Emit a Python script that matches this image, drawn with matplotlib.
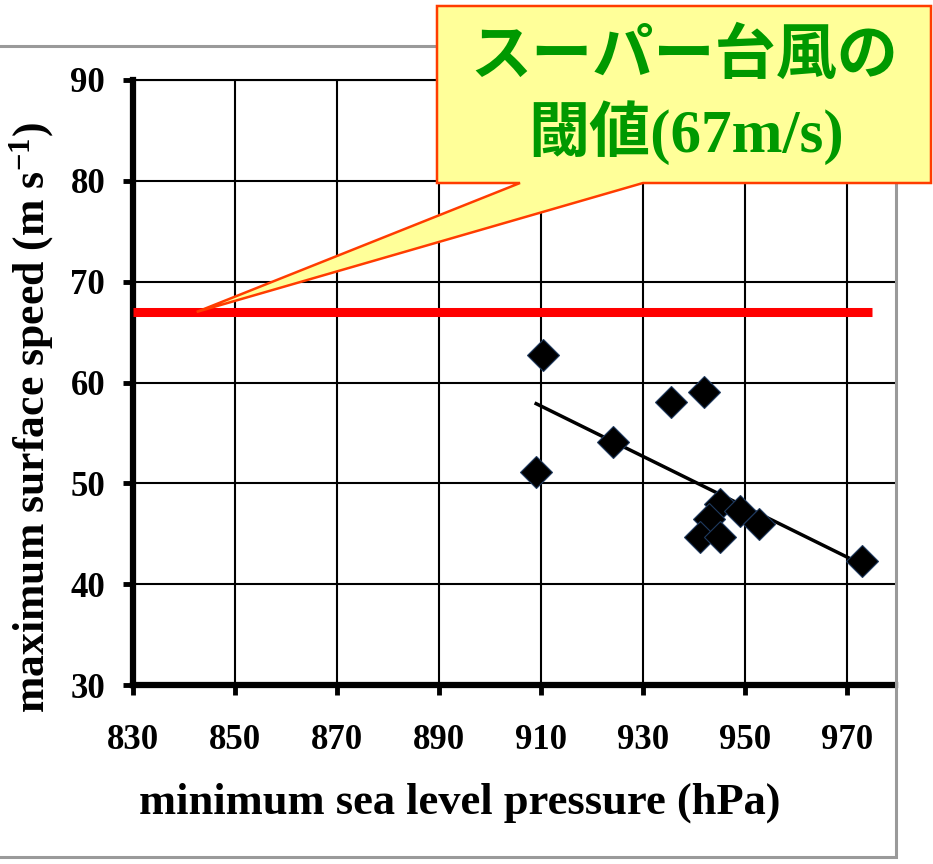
import numpy as np
import matplotlib.pyplot as plt
from matplotlib.patches import Polygon, Rectangle


# typhoon cases: minimum sea level pressure (hPa) and maximum surface wind (m/s)
pressure = [910.4, 909.1, 924.2, 935.6, 942.0, 945.1, 943.1, 941.2, 945.1, 949.0, 952.9, 973.1]
wind     = [62.7, 51.1, 54.1, 58.1, 59.1, 48.0, 46.5, 44.7, 44.7, 47.3, 46.0, 42.3]

threshold      = 67              # super typhoon threshold (m/s)
threshold_span = (830, 975)      # hPa range covered by the threshold line
callout_target = (842.5, threshold)

xticks = np.arange(830, 971, 20)
yticks = np.arange(30, 91, 10)


plt.rcParams['font.family'] = 'Liberation Serif'
plt.rcParams['font.weight'] = 'bold'
plt.rcParams['mathtext.fontset'] = 'custom'
plt.rcParams['mathtext.rm'] = 'Liberation Serif:bold'
plt.rcParams['mathtext.bf'] = 'Liberation Serif:bold'
plt.rcParams['mathtext.it'] = 'Liberation Serif:bold:italic'
plt.rcParams['mathtext.default'] = 'rm'

W, H = 933, 864
fig = plt.figure(figsize=(W/100, H/100), dpi=100)
ax = fig.add_axes([133/W, 1 - 685/H, 762/W, 605/H])

### outer gray frame
fig.add_artist(Rectangle((-0.01, 1 - 857/H), 896/W + 0.01, (857 - 46)/H,
                         transform=fig.transFigure, fill=False,
                         edgecolor='#9a9a9a', lw=2.2, zorder=1))

### threshold line, trend line and data
ax.hlines(threshold, *threshold_span, color='#ff0000', lw=6.5, zorder=3)
coef = np.polyfit(pressure, wind, 1)
xs = np.array([min(pressure), max(pressure)])
ax.plot(xs, np.polyval(coef, xs), color='black', lw=2.5, zorder=4)
ax.plot(pressure, wind, ls='none', marker='D', ms=16.5, color='black',
        markeredgecolor='#1f3a5f', markeredgewidth=0.8, zorder=5)

### axes
ax.set_xlim(830, 979.5)
ax.set_ylim(30, 90)
ax.set_xticks(xticks)
ax.set_yticks(yticks)
ax.grid(True, color='black', lw=1.5)
ax.set_axisbelow(True)
for side in ('left', 'bottom'):
    ax.spines[side].set_linewidth(4.5)
ax.spines['top'].set_linewidth(1.5)
ax.spines['right'].set_visible(False)
ax.tick_params(direction='out', length=7, width=3.5, labelsize=25)
ax.tick_params(axis='x', pad=21)
ax.tick_params(axis='y', pad=13)

fig.text(460/W, 1 - 803/H, 'minimum sea level pressure (hPa)',
         ha='center', va='center', fontsize=32)
fig.text(32/W, 1 - 418/H, 'maximum surface speed (m s$^{-1}$)',
         ha='center', va='center', rotation=90, fontsize=31.5)

### callout box pointing at the threshold line
tip = fig.transFigure.inverted().transform(ax.transData.transform(callout_target))
box = [(437, 6), (931, 6), (931, 183), (643, 183), None, (520, 183), (437, 183)]
verts = [tuple(tip) if p is None else (p[0]/W, 1 - p[1]/H) for p in box]
fig.add_artist(Polygon(verts, closed=True, transform=fig.transFigure,
                       facecolor='#ffff99', edgecolor='#ff3c00', lw=1.8, zorder=6))

cjk = ['Liberation Serif', 'Noto Sans CJK JP']
fig.text(684/W, 1 - 58/H, 'スーパー台風の', ha='center', va='center',
         family=cjk, fontsize=44, color='#009900', zorder=7)
fig.text(686/W, 1 - 133/H, f'閾値({threshold}m/s)', ha='center', va='center',
         family=cjk, fontsize=44, color='#009900', zorder=7)

fig.savefig('out.png', dpi=100)
